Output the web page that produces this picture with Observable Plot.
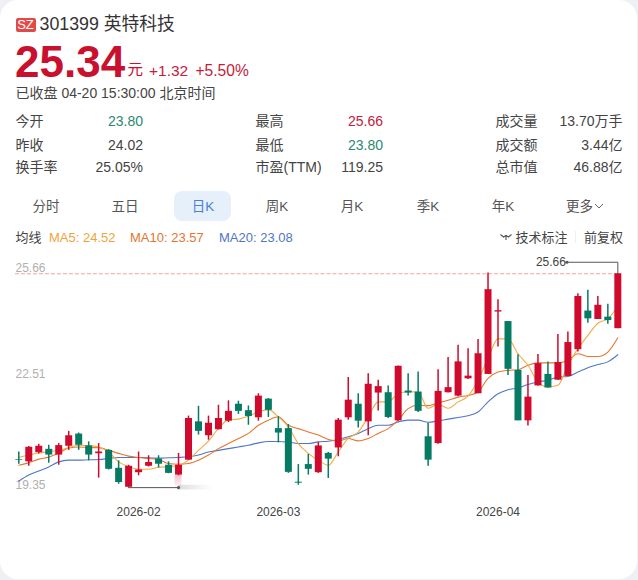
<!DOCTYPE html>
<html lang="zh-CN">
<head>
<meta charset="utf-8">
<script src="https://cdn.jsdelivr.net/npm/d3@7"></script>
<script src="https://cdn.jsdelivr.net/npm/@observablehq/plot@0.6"></script>
<style>
  html,body{margin:0;padding:0;background:#eef0f3;}
  body{width:638px;height:580px;overflow:hidden;font-family:"Liberation Sans","Noto Sans CJK SC",sans-serif;color:#444;}
  #card{position:relative;width:637px;height:579px;background:#fff;border-radius:18px;overflow:hidden;}
  #card div,#card span.a{position:absolute;white-space:nowrap;}
  .lab{font-size:14px;line-height:16px;color:#444;}
  .val{font-size:14px;line-height:16px;color:#444;text-align:right;}
  .tab{font-size:13.5px;line-height:16px;top:199px;transform:translateX(-50%);color:#555;}
  .leg{font-size:13px;line-height:16px;top:230px;}
  #chart{position:absolute;left:0;top:250px;}
</style>
</head>
<body>
<div id="card">
  <div style="left:15.5px;top:18px;width:20px;height:14px;background:#e24a4a;border-radius:2px;color:#fff;font-size:13px;line-height:14px;text-align:center;">SZ</div>
  <div style="left:39.5px;top:14px;font-size:17.8px;line-height:20px;color:#333;">301399 英特科技</div>
  <div style="left:15px;top:37px;font-size:44px;line-height:50px;font-weight:700;color:#c9102e;">25.34</div>
  <div style="left:127.5px;top:61px;font-size:15.5px;line-height:18px;color:#c9102e;">元</div>
  <div style="left:149px;top:62px;font-size:15.5px;line-height:18px;color:#c4203c;">+1.32</div>
  <div style="left:195.5px;top:62px;font-size:15.6px;line-height:18px;color:#c4203c;">+5.50%</div>
  <div style="left:15.5px;top:85px;font-size:14px;line-height:16px;color:#444;">已收盘 04-20 15:30:00 北京时间</div>

  <div class="lab" style="left:15.5px;top:113px;">今开</div>
  <div class="val" style="right:494px;top:113px;color:#2a8a72;">23.80</div>
  <div class="lab" style="left:15.5px;top:137px;">昨收</div>
  <div class="val" style="right:494px;top:137px;">24.02</div>
  <div class="lab" style="left:15.5px;top:159px;">换手率</div>
  <div class="val" style="right:494px;top:159px;">25.05%</div>

  <div class="lab" style="left:255.5px;top:113px;">最高</div>
  <div class="val" style="right:254px;top:113px;color:#c0203e;">25.66</div>
  <div class="lab" style="left:255.5px;top:137px;">最低</div>
  <div class="val" style="right:254px;top:137px;color:#2a8a72;">23.80</div>
  <div class="lab" style="left:255.5px;top:159px;">市盈(TTM)</div>
  <div class="val" style="right:254px;top:159px;">119.25</div>

  <div class="lab" style="left:495.5px;top:113px;">成交量</div>
  <div class="val" style="right:14.5px;top:113px;">13.70万手</div>
  <div class="lab" style="left:495.5px;top:137px;">成交额</div>
  <div class="val" style="right:14.5px;top:137px;">3.44亿</div>
  <div class="lab" style="left:495.5px;top:159px;">总市值</div>
  <div class="val" style="right:14.5px;top:159px;">46.88亿</div>

  <div style="left:174px;top:191px;width:57px;height:30px;background:#e6f0fb;border-radius:8px;"></div>
  <div class="tab" style="left:46px;">分时</div>
  <div class="tab" style="left:125px;">五日</div>
  <div class="tab" style="left:203px;color:#4a7fcf;">日K</div>
  <div class="tab" style="left:277px;">周K</div>
  <div class="tab" style="left:352px;">月K</div>
  <div class="tab" style="left:428px;">季K</div>
  <div class="tab" style="left:503px;">年K</div>
  <div class="tab" style="left:579.5px;">更多</div>
  <svg style="position:absolute;left:594px;top:203px;" width="10" height="7"><path d="M1 1 L5 5 L9 1" fill="none" stroke="#666" stroke-width="1"/></svg>

  <div class="leg" style="left:15.5px;color:#444;">均线</div>
  <div class="leg" style="left:49px;color:#f0a53a;">MA5: 24.52</div>
  <div class="leg" style="left:130px;color:#e5762e;">MA10: 23.57</div>
  <div class="leg" style="left:219px;color:#4f76c8;">MA20: 23.08</div>
  <svg style="position:absolute;left:500px;top:233px;" width="12" height="9"><path d="M0.5 1.5 L3.5 4 L6 2.5 L8.5 4 L11.5 1.5 M6 2.5 V7" fill="none" stroke="#555" stroke-width="1.1"/></svg>
  <div class="leg" style="left:515.5px;color:#444;">技术标注</div>
  <div style="left:575px;top:231px;width:1px;height:12px;background:#eef0f3;"></div>
  <div class="leg" style="left:584px;color:#444;">前复权</div>
  <div id="chart"></div>
</div>
<script>
const open = [20.17,20.11,20.38,20.48,20.31,20.57,20.93,20.58,20.35,20.45,
  19.92,19.36,19.79,19.98,20.19,20.01,19.72,20.16,21.29,20.88,
  21.06,21.31,21.81,21.62,21.41,21.96,21.09,21.09,19.51,20.03,
  19.79,20.36,20.52,21.41,21.81,21.29,22.14,22.15,21.32,22.20,
  22.17,20.85,20.65,22.15,22.05,22.56,22.12,22.69,24.53,24.25,
  22.81,21.32,22.35,22.69,22.52,22.63,23.42,24.56,24.31,24.38,
  24.04];
const close = [20.15,20.54,20.57,20.31,20.59,20.88,20.60,20.31,20.40,19.89,
  19.50,19.98,19.87,20.09,20.04,19.77,20.01,21.39,21.01,21.25,
  21.39,21.60,21.60,21.45,22.05,21.63,20.96,19.80,19.48,19.89,
  20.58,20.19,21.34,21.93,21.31,22.40,22.33,21.42,22.93,22.14,
  21.60,20.16,22.19,22.30,23.06,22.64,23.30,25.19,24.57,22.84,
  21.32,22.02,23.01,22.29,23.04,23.63,24.99,24.33,24.73,24.28,
  25.66];
const high = [20.40,20.56,20.63,20.60,20.65,21.01,20.96,20.70,20.65,20.47,
  20.14,20.01,20.40,20.29,20.29,20.11,20.36,21.46,21.75,21.46,
  21.78,21.91,21.90,21.76,22.12,21.98,21.44,21.21,20.03,20.33,
  20.68,20.39,21.39,22.60,22.12,22.71,22.52,22.35,22.94,22.71,
  22.76,21.25,22.83,23.19,23.55,23.45,23.72,25.68,24.89,24.25,
  23.27,22.66,23.28,23.06,23.87,23.94,25.07,25.17,24.99,24.76,
  25.66];
const low = [20.04,19.98,20.34,20.07,20.01,20.45,20.45,20.14,19.63,19.87,
  19.45,19.35,19.70,19.96,19.93,19.76,19.70,20.16,20.90,20.75,
  21.05,21.27,21.51,21.19,21.31,21.42,20.67,19.77,19.42,19.72,
  19.77,19.62,20.26,21.34,21.11,20.88,21.61,21.39,21.31,22.05,
  21.57,19.98,20.63,22.14,22.03,22.54,22.12,22.69,23.50,22.66,
  21.32,21.17,22.35,22.29,22.52,22.63,23.35,24.20,24.31,24.17,
  24.04];
const ma5 = [20.24,20.31,20.37,20.41,20.45,20.53,20.60,20.59,20.55,20.40,
  20.11,19.97,19.89,19.89,19.95,19.97,20.01,20.16,20.45,20.72,
  21.10,21.35,21.37,21.46,21.58,21.65,21.44,21.14,20.65,20.36,
  20.16,20.01,20.40,20.80,20.99,21.44,21.88,21.88,22.13,22.18,
  22.17,21.69,21.81,21.69,21.88,22.05,22.52,23.16,23.74,23.74,
  23.30,22.96,22.47,22.32,22.37,22.96,23.45,23.84,24.20,24.33,
  24.70];
const ma10 = [20.01,20.08,20.19,20.25,20.37,20.52,20.55,20.53,20.53,20.45,
  20.36,20.28,20.24,20.21,20.18,20.06,20.04,20.06,20.16,20.31,
  20.50,20.65,20.80,20.95,21.19,21.34,21.44,21.19,21.09,20.99,
  20.90,20.77,20.73,20.80,20.73,20.80,20.95,21.09,21.34,21.68,
  21.78,21.77,21.85,21.93,22.02,22.07,22.17,22.57,22.76,22.81,
  22.83,22.96,23.03,23.03,23.03,23.11,23.30,23.22,23.22,23.35,
  23.77];
const ma20 = [19.54,19.72,19.84,19.96,20.11,20.16,20.16,20.17,20.18,20.21,
  20.24,20.24,20.24,20.23,20.22,20.23,20.24,20.26,20.31,20.40,
  20.45,20.50,20.55,20.60,20.67,20.71,20.71,20.69,20.65,20.65,
  20.70,20.72,20.77,20.85,20.95,21.09,21.19,21.19,21.29,21.34,
  21.34,21.28,21.32,21.37,21.42,21.47,21.58,21.88,22.12,22.24,
  22.29,22.39,22.47,22.52,22.61,22.63,22.76,22.89,22.98,23.06,
  23.27];

const xTickIndex = [12, 26, 48];
const xTickLabels = ["2026-02", "2026-03", "2026-04"];
const yTickValues = [25.66, 22.51, 19.35];
const yTickShift = [-5.5, -6.5, -2];
const maxValue = 25.66, minValue = 19.35;
const RED = "#cf0a2c", GREEN = "#067a62";

const candles = open.map((o, i) => ({i, open: o, close: close[i], high: high[i], low: low[i]}));
const maRows = values => values.map((v, i) => ({i, v}));
const fill = d => d.close >= d.open ? RED : GREEN;

// Fading remains of the erased "lowest price" label
const defs = () => {
  const g = d3.create("svg:defs");
  const a = g.append("linearGradient").attr("id", "fadeGray");
  a.append("stop").attr("offset", "0").attr("stop-color", "#888").attr("stop-opacity", 0.3);
  a.append("stop").attr("offset", "1").attr("stop-color", "#aaa").attr("stop-opacity", 0);
  const b = g.append("linearGradient").attr("id", "fadeRed").attr("x2", 0).attr("y2", 1);
  b.append("stop").attr("offset", "0").attr("stop-color", RED).attr("stop-opacity", 0.25);
  b.append("stop").attr("offset", "1").attr("stop-color", RED).attr("stop-opacity", 0);
  return g.node();
};

const chart = Plot.plot({
  width: 638, height: 280,
  marginTop: 0, marginRight: 0, marginBottom: 23, marginLeft: 0,
  x: {type: "linear", domain: [0, 60], range: [18.3, 618.3], axis: null},
  y: {type: "linear", domain: [minValue, maxValue], range: [237.5, 23.3], axis: null},
  style: {fontFamily: '"Liberation Sans","Noto Sans CJK SC",sans-serif', fontSize: "12px", background: "transparent", overflow: "visible"},
  marks: [
    defs,
    Plot.ruleY([maxValue], {x1: -0.33, x2: 60.3, stroke: "#f3a497", strokeWidth: 1, strokeDasharray: "4 2"}),
    ...yTickValues.map((v, k) => Plot.text([v], {
      y: d => d, text: d => d.toFixed(2), frameAnchor: "left", textAnchor: "start",
      dx: 15, dy: yTickShift[k], fill: "#b0b0b0", fontSize: 12
    })),
    Plot.line(maRows(ma20), {x: "i", y: "v", stroke: "#4f76c8", strokeWidth: 1.1, curve: "monotone-x"}),
    Plot.line(maRows(ma10), {x: "i", y: "v", stroke: "#e5762e", strokeWidth: 1.1, curve: "monotone-x"}),
    Plot.line(maRows(ma5),  {x: "i", y: "v", stroke: "#f2ab45", strokeWidth: 1.1, curve: "monotone-x"}),
    Plot.ruleX(candles, {x: "i", y1: "low", y2: "high", stroke: fill, strokeWidth: 1.5}),
    Plot.ruleX(candles, {x: "i", y1: "open", y2: "close", stroke: fill, strokeWidth: 7}),
    // Highest-price callout
    Plot.line([{i: 60, v: maxValue}, {i: 60, v: 26.0}, {i: 54.9, v: 26.0}], {x: "i", y: "v", stroke: "#555", strokeWidth: 1}),
    Plot.dot([{i: 54.9, v: 26.0}], {x: "i", y: "v", r: 1.6, fill: "#555"}),
    Plot.text([{i: 54.9, v: 26.0}], {x: "i", y: "v", text: () => "25.66", textAnchor: "end", dx: -1, fill: "#444", fontSize: 12}),
    // Lowest-price callout, with its label faded out
    Plot.rect([0], {x1: 16, x2: 19.6, y1: 19.28, y2: 19.42, fill: "url(#fadeGray)"}),
    Plot.rect([0], {x1: 15.65, x2: 16.35, y1: 19.72, y2: 19.3, fill: "url(#fadeRed)"}),
    Plot.ruleY([minValue], {x1: 11, x2: 16, stroke: "#555", strokeWidth: 1}),
    Plot.dot([{i: 16, v: minValue}], {x: "i", y: "v", r: 1.6, fill: "#555"}),
    Plot.axisX(xTickIndex, {
      anchor: "bottom", tickSize: 0, tickPadding: 0, label: null,
      tickFormat: i => xTickLabels[xTickIndex.indexOf(i)], fill: "#444", fontSize: 12
    })
  ]
});
document.getElementById("chart").appendChild(chart);
</script>
</body>
</html>
